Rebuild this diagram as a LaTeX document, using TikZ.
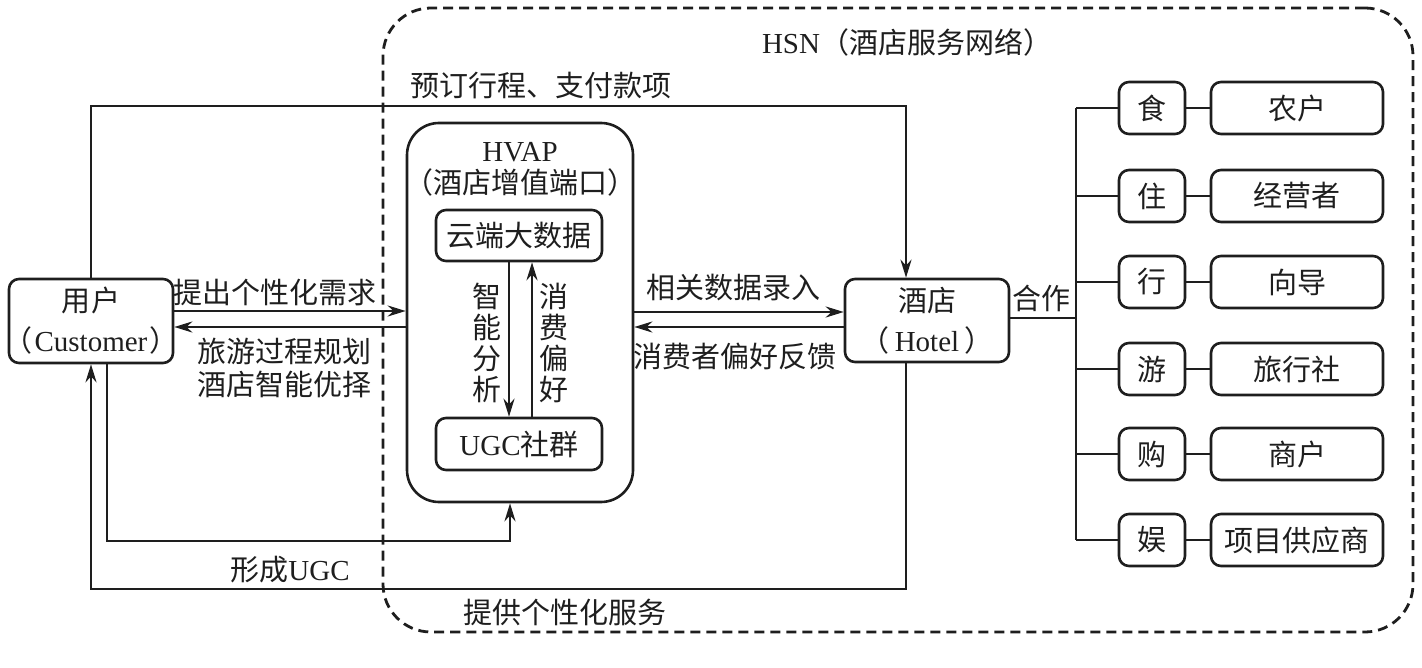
\documentclass[tikz,border=0pt]{standalone}
\usepackage{fontspec}
\setmainfont{Liberation Serif}
\newfontfamily\cjk{Noto Sans CJK SC}
\newfontfamily\lat{Liberation Serif}
\usetikzlibrary{arrows.meta}
\definecolor{ink}{RGB}{30,30,30}
\begin{document}
\begin{tikzpicture}[x=0.5pt,y=-0.5pt,
  every node/.style={text=ink},
  box/.style={draw=ink, rounded corners=5pt, line width=1.3pt, inner sep=0pt, font={\cjk\fontsize{14.5pt}{20pt}\selectfont}, align=center},
  ln/.style={draw=ink, line width=1.3pt},
  arr/.style={ln, -{Stealth[length=9pt,width=5.5pt]}},
  lbl/.style={font={\cjk\fontsize{14.5pt}{16.5pt}\selectfont}, inner sep=0pt, align=center},
  vlbl/.style={lbl, font={\cjk\fontsize{14.5pt}{15.5pt}\selectfont}},
]
\useasboundingbox (0,0) rectangle (1422,668);

% HSN dashed region
\node[draw=ink, dash pattern=on 5pt off 3pt, line width=1.4pt, rounded corners=24pt,
  minimum width=515pt, minimum height=312pt, inner sep=0pt] (hsn) at (898,320) {};
\node[lbl] (hsnt) at (907,42) {{\lat HSN}（酒店服务网络）};

% main nodes
\node[box, minimum width=82pt, minimum height=42pt] (cust) at (91,321) {用户\\\kern-4pt（\kern1pt{\lat Customer}\kern1pt）\kern-4pt};
\node[box, rounded corners=16pt, minimum width=113pt, minimum height=189.5pt] (hvap) at (520,312.5) {};
\node[lbl] (hvapt1) at (520,152) {{\lat HVAP}};
\node[lbl] (hvapt2) at (520,182) {（酒店增值端口）};
\node[box, minimum width=83pt, minimum height=25.5pt] (cloud) at (519,235.5) {云端大数据};
\node[box, minimum width=83pt, minimum height=26pt] (ugc) at (519,444) {{\lat UGC}社群};
\node[box, minimum width=82pt, minimum height=41.5pt] (hotel) at (927,320.5) {酒店\\（\,{\lat Hotel}\,）};

% categories and providers
\foreach \i/\y/\c/\p in {1/108/食/农户, 2/196/住/经营者, 3/282/行/向导, 4/369/游/旅行社, 5/454/购/商户, 6/540/娱/项目供应商}{
  \node[box, minimum width=33pt, minimum height=26pt] (c\i) at (1152,\y) {\c};
  \node[box, minimum width=86pt, minimum height=26pt] (p\i) at (1297,\y) {\p};
  \coordinate (b\i) at (1076,\y);
  \draw[ln] (b\i) -- (c\i.west);
  \draw[ln] (c\i.east) -- (p\i.west);
}
\coordinate (tj) at (1076,318);
\draw[ln] (b1) -- (b6);
\draw[ln] (hotel.east |- tj) -- (tj);
\node[lbl] (hz) at (1041,298) {合作};

% customer <-> HVAP
\draw[arr] (cust.east |- 0,311) -- (hvap.west |- 0,311);
\draw[arr] (hvap.west |- 0,327) -- (cust.east |- 0,327);
\node[lbl] (l1) at (275,292) {提出个性化需求};
\node[lbl] (l2) at (284,368) {旅游过程规划\\酒店智能优择};

% HVAP <-> hotel
\draw[arr] (hvap.east |- 0,312) -- (hotel.west |- 0,312);
\draw[arr] (hotel.west |- 0,327) -- (hvap.east |- 0,327);
\node[lbl] (l3) at (733,288) {相关数据录入};
\node[lbl] (l4) at (735,356) {消费者偏好反馈};

% cloud <-> ugc
\draw[arr] (cloud.south -| 509,0) -- (ugc.north -| 509,0);
\draw[arr] (ugc.north -| 532,0) -- (cloud.south -| 532,0);
\node[vlbl] (l5) at (487,343) {智\\能\\分\\析};
\node[vlbl] (l6) at (554,343) {消\\费\\偏\\好};

% top loop: booking / payment
\coordinate (t1) at (91,106);
\coordinate (t2) at (906,106);
\draw[arr] (cust.north) -- (t1) -- (t2) -- (hotel.north -| t2);
\node[lbl] (l7) at (541,86) {预订行程、支付款项};

% bottom outer loop: personalised service
\coordinate (o1) at (906,589);
\coordinate (o2) at (91,589);
\draw[arr] (hotel.south -| o1) -- (o1) -- (o2) -- (cust.south);
\node[lbl] (l8) at (565,612) {提供个性化服务};

% inner loop: UGC
\coordinate (u1) at (107,541);
\coordinate (u2) at (510,541);
\draw[arr] (cust.south -| u1) -- (u1) -- (u2) -- (hvap.south -| u2);
\node[lbl] (l9) at (290,570) {形成{\lat UGC}};
\end{tikzpicture}
\end{document}
